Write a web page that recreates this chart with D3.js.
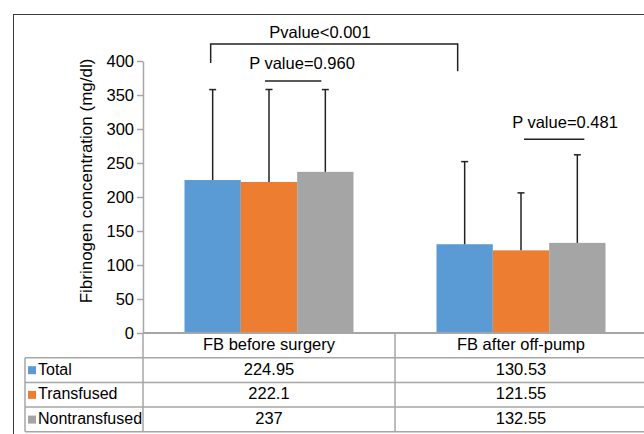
<!DOCTYPE html>
<html>
<head>
<meta charset="utf-8">
<script src="https://cdn.jsdelivr.net/npm/d3@7"></script>
<style>
  body { margin: 0; background: #fff; }
  svg { display: block; font-family: "Liberation Sans", Arial, sans-serif; }
</style>
</head>
<body>
<div id="wrap"></div>
<script>
const categories = ["FB before surgery", "FB after off-pump"];
const series = ["Total", "Transfused", "Nontransfused"];
const values = {
  Total: [224.95, 130.53],
  Transfused: [222.1, 121.55],
  Nontransfused: [237, 132.55]
};
// standard deviations
const sd = {
  Total: [133, 121.5],
  Transfused: [136, 84.5],
  Nontransfused: [121, 129.5]
};
const yTicks = [0, 50, 100, 150, 200, 250, 300, 350, 400];
const colors = ["#5b9bd5", "#ed7d31", "#a5a5a5"];

const width = 644, height = 434;
const axisColor = "#a6a6a6";

const svg = d3.select("#wrap").append("svg")
  .attr("width", width)
  .attr("height", height);

// outer frame
svg.append("rect")
  .attr("x", 13.5).attr("y", 14.5)
  .attr("width", 700).attr("height", 500)
  .attr("fill", "none")
  .attr("stroke", "#3a3a3a")
  .attr("stroke-width", 1);

const x = d3.scaleBand()
  .domain(categories)
  .range([143, 647]);

const xInner = d3.scaleBand()
  .domain(series)
  .range([41.5, x.bandwidth() - 41.5]);

const y = d3.scaleLinear()
  .domain([0, 400])
  .range([333, 61]);

// y axis
const yAxis = d3.axisLeft(y)
  .tickValues(yTicks)
  .tickSizeInner(6)
  .tickSizeOuter(0)
  .tickPadding(3);

const gy = svg.append("g")
  .attr("transform", "translate(143,0)")
  .call(yAxis);
gy.select(".domain").attr("stroke", axisColor).attr("stroke-width", 1.5);
gy.selectAll(".tick line").attr("stroke", axisColor).attr("stroke-width", 1.5);
gy.selectAll(".tick text")
  .attr("fill", "#000")
  .style("font-size", "16.5px")
  .style("font-family", "Liberation Sans, Arial, sans-serif");

svg.append("text")
  .attr("transform", `translate(92,${181}) rotate(-90)`)
  .attr("text-anchor", "middle")
  .style("font-size", "17px")
  .text("Fibrinogen concentration (mg/dl)");

// bars
const groups = svg.append("g").selectAll("g")
  .data(categories)
  .join("g")
  .attr("transform", d => `translate(${x(d)},0)`);

groups.selectAll("rect")
  .data((c, ci) => series.map((s, si) => ({ s, si, v: values[s][ci], e: sd[s][ci] })))
  .join("rect")
  .attr("x", d => xInner(d.s))
  .attr("y", d => y(d.v))
  .attr("width", xInner.bandwidth())
  .attr("height", d => y(0) - y(d.v))
  .attr("fill", d => colors[d.si]);

// error bars (upper only)
const err = groups.selectAll("g.err")
  .data((c, ci) => series.map(s => ({ s, v: values[s][ci], e: sd[s][ci] })))
  .join("g")
  .attr("class", "err")
  .attr("transform", d => `translate(${xInner(d.s) + xInner.bandwidth() / 2},0)`);

err.append("line")
  .attr("y1", d => y(d.v))
  .attr("y2", d => y(d.v + d.e))
  .attr("stroke", "#222")
  .attr("stroke-width", 1.5);
err.append("line")
  .attr("x1", -3.5).attr("x2", 3.5)
  .attr("y1", d => y(d.v + d.e))
  .attr("y2", d => y(d.v + d.e))
  .attr("stroke", "#222")
  .attr("stroke-width", 1.5);

// significance annotations
const cx = (c, s) => x(c) + xInner(s) + xInner.bandwidth() / 2;
const ann = svg.append("g").attr("stroke", "#222").attr("stroke-width", 1.5).attr("fill", "none");

// big bracket between time points
const bx1 = cx(categories[0], "Total") - 2;
const bx2 = cx(categories[1], "Total") - 7;
ann.append("path")
  .attr("d", `M${bx1},${y(397)}V${y(425)}H${bx2}V${y(385)}`);
svg.append("text")
  .attr("x", 320).attr("y", 37.5)
  .attr("text-anchor", "middle")
  .style("font-size", "16.5px")
  .text("Pvalue<0.001");

// line under P value=0.960
ann.append("line")
  .attr("x1", cx(categories[0], "Transfused") - 4)
  .attr("x2", cx(categories[0], "Nontransfused") - 4)
  .attr("y1", y(370.5)).attr("y2", y(370.5));
svg.append("text")
  .attr("x", 302).attr("y", 69)
  .attr("text-anchor", "middle")
  .style("font-size", "16.5px")
  .text("P value=0.960");

// line under P value=0.481
ann.append("line")
  .attr("x1", cx(categories[1], "Transfused") + 3)
  .attr("x2", cx(categories[1], "Nontransfused") + 7)
  .attr("y1", y(285)).attr("y2", y(285));
svg.append("text")
  .attr("x", 565).attr("y", 128)
  .attr("text-anchor", "middle")
  .style("font-size", "16.5px")
  .text("P value=0.481");

// data table under the axis
const rowH = 24.7;
const tableTop = y(0);
const tableLeft = 25;
const tableRight = 647;
const tbl = svg.append("g").attr("stroke", axisColor).attr("stroke-width", 1.5);

tbl.append("line")
  .attr("x1", 143).attr("x2", tableRight)
  .attr("y1", tableTop).attr("y2", tableTop)
  .attr("stroke-width", 2);
for (let i = 1; i <= series.length + 1; i++) {
  tbl.append("line")
    .attr("x1", tableLeft).attr("x2", tableRight)
    .attr("y1", tableTop + i * rowH).attr("y2", tableTop + i * rowH);
}
tbl.append("line")
  .attr("x1", tableLeft).attr("x2", tableLeft)
  .attr("y1", tableTop + rowH).attr("y2", tableTop + (series.length + 1) * rowH);
tbl.append("line")
  .attr("x1", 143).attr("x2", 143)
  .attr("y1", tableTop).attr("y2", tableTop + (series.length + 1) * rowH);
categories.forEach(c => {
  tbl.append("line")
    .attr("x1", x(c) + x.bandwidth()).attr("x2", x(c) + x.bandwidth())
    .attr("y1", tableTop).attr("y2", tableTop + (series.length + 1) * rowH);
});

// header row: category labels
svg.append("g").selectAll("text")
  .data(categories)
  .join("text")
  .attr("x", d => x(d) + x.bandwidth() / 2)
  .attr("y", tableTop + 17)
  .attr("text-anchor", "middle")
  .style("font-size", "16.5px")
  .text(d => d);

// series rows
series.forEach((s, si) => {
  const rowY = tableTop + (si + 1) * rowH;
  svg.append("rect")
    .attr("x", 28).attr("y", rowY + 8.5)
    .attr("width", 8).attr("height", 8)
    .attr("fill", colors[si]);
  svg.append("text")
    .attr("x", 38).attr("y", rowY + 17)
    .style("font-size", "16px")
    .text(s);
  svg.append("g").selectAll("text")
    .data(categories)
    .join("text")
    .attr("x", d => x(d) + x.bandwidth() / 2)
    .attr("y", rowY + 17)
    .attr("text-anchor", "middle")
    .style("font-size", "16.5px")
    .text((d, ci) => String(values[s][ci]));
});
</script>
</body>
</html>
